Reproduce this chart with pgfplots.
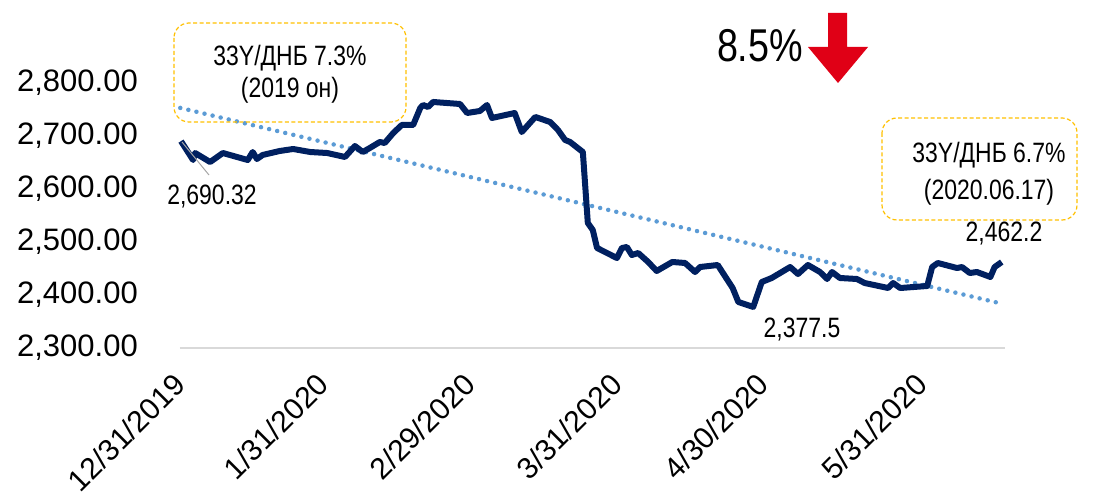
\documentclass[border=0pt]{standalone}
\usepackage{pgfplots}
\pgfplotsset{compat=1.18}
\usepackage{fontspec}
\setmainfont{Liberation Sans}
\newfontfamily\narrow[FakeStretch=0.82]{Liberation Sans}

\definecolor{navy}{HTML}{002060}
\definecolor{trendblue}{HTML}{5B9BD5}
\definecolor{boxyellow}{HTML}{FFC000}
\definecolor{arrowred}{HTML}{E00016}
\definecolor{axisgray}{HTML}{D9D9D9}

\begin{document}
\begin{tikzpicture}[x=1pt,y=1pt]
	\begin{axis}[
			at={(180pt,145pt)}, anchor=south west,
			scale only axis,
			width=825pt,
			height=291.5pt,
			xmin=-0.14, xmax=116.06,
			ymin=2300, ymax=2850,
			clip=false,
			axis line style={draw=none},
			tick style={draw=none},
			scaled y ticks=false,
			ytick={2300,2400,2500,2600,2700,2800},
			yticklabel style={
					/pgf/number format/fixed,
					/pgf/number format/fixed zerofill,
					/pgf/number format/precision=2,
					/pgf/number format/1000 sep={,},
					/pgf/number format/assume math mode=true,
					font=\fontsize{31}{31}\selectfont,
					anchor=east, inner sep=0pt, xshift=-42pt
				},
			xtick={0.56,20.8,41.4,62.1,82.8,105.1},
			xticklabels={12/31/2019,1/31/2020,2/29/2020,3/31/2020,4/30/2020,5/31/2020},
			% shifts act in the rotated frame
			xticklabel style={
					rotate=45, anchor=north east, inner sep=0pt,
					font=\fontsize{30}{30}\selectfont, xshift=-26pt, yshift=-7pt
				},
		]

		% trend line
		\addplot[trendblue, line width=4.5pt, line cap=round,
			dash pattern=on 0pt off 8.3pt] coordinates {
				(-0.1,2753) (115.8,2383)
			};

		% index
		\addplot[navy, line width=6pt, line join=round] coordinates {
				(0,2690.3) (1.7,2654.7) (2.0,2667.9) (4.1,2650.9) (5.9,2667.9)
				(9.4,2654.7) (10.1,2669.8) (10.7,2656.6) (11.5,2664.2) (13.9,2671.7)
				(15.8,2675.5) (18.2,2669.8) (20.6,2667.9) (23.1,2660.4) (24.5,2681.1)
				(25.6,2669.8) (26.6,2677.4) (28.0,2688.7) (28.7,2686.8) (29.9,2705.7)
				(31.1,2720.8) (32.7,2720.8) (33.7,2752.8) (34.1,2758.5) (34.8,2754.7)
				(35.5,2764.2) (39.3,2760.4) (40.3,2743.4) (42.1,2747.2) (43.1,2758.5)
				(43.8,2734.0) (47.0,2743.4) (48.0,2707.5) (49.9,2735.9) (52.0,2726.4)
				(53.1,2711.3) (54.1,2692.5) (54.8,2688.7) (56.6,2669.8) (57.3,2535.9)
				(58.0,2522.6) (58.6,2488.7) (61.4,2469.8) (62.1,2488.7) (62.8,2490.6)
				(63.5,2475.5) (64.4,2479.2) (65.8,2462.3) (67.0,2445.3) (69.2,2462.3)
				(71.0,2460.4) (72.4,2443.4) (73.1,2452.8) (75.6,2456.6) (77.7,2413.2)
				(78.5,2386.8) (80.6,2377.5) (81.8,2424.5) (83.2,2432.1) (85.8,2452.8)
				(86.9,2439.6) (88.3,2456.6) (90.0,2443.4) (91.0,2430.2) (91.7,2443.4)
				(92.8,2432.1) (95.2,2430.2) (96.3,2422.6) (99.6,2413.2) (100.3,2422.6)
				(101.3,2413.2) (105.1,2417.0) (105.8,2452.8) (106.6,2460.4) (109.3,2450.9)
				(110.0,2452.8) (111.1,2441.5) (112.1,2443.4) (114.0,2434.0) (114.6,2452.8)
				(115.6,2462.2)
			};

		\draw[axisgray, line width=1.5pt] (rel axis cs:0,0) -- (rel axis cs:1,0);
	\end{axis}

	% annotation boxes
	\draw[boxyellow, line width=1.2pt, dash pattern=on 4pt off 2.5pt, rounded corners=15pt]
	(174,470) rectangle (406,371);
	\node[font=\narrow\fontsize{28}{28}\selectfont] at (290,435) {33Y/ДНБ 7.3\%};
	\node[font=\narrow\fontsize{28}{28}\selectfont] at (290,403) {(2019 он)};

	\draw[boxyellow, line width=1.2pt, dash pattern=on 4pt off 2.5pt, rounded corners=15pt]
	(882,375) rectangle (1077,273);
	\node[font=\narrow\fontsize{28}{28}\selectfont] at (989,338) {33Y/ДНБ 6.7\%};
	\node[font=\narrow\fontsize{28}{28}\selectfont] at (989,301) {(2020.06.17)};

	% change
	\node[font=\narrow\fontsize{46}{46}\selectfont] at (760,447) {8.5\%};
	\fill[arrowred] (828,480) -- (847,480) -- (847,446) -- (868,446) -- (838,410)
	-- (808,446) -- (828,446) -- cycle;

	% data labels
	\draw[gray!70, line width=1pt] (182,351) -- (209,318);
	\node[font=\narrow\fontsize{28}{28}\selectfont] at (212,296) {2,690.32};
	\node[font=\narrow\fontsize{28}{28}\selectfont] at (802,163) {2,377.5};
	\node[font=\narrow\fontsize{28}{28}\selectfont] at (1004,259) {2,462.2};

	\pgfresetboundingbox
	\path[use as bounding box] (0,0) rectangle (1094,493);
\end{tikzpicture}
\end{document}
